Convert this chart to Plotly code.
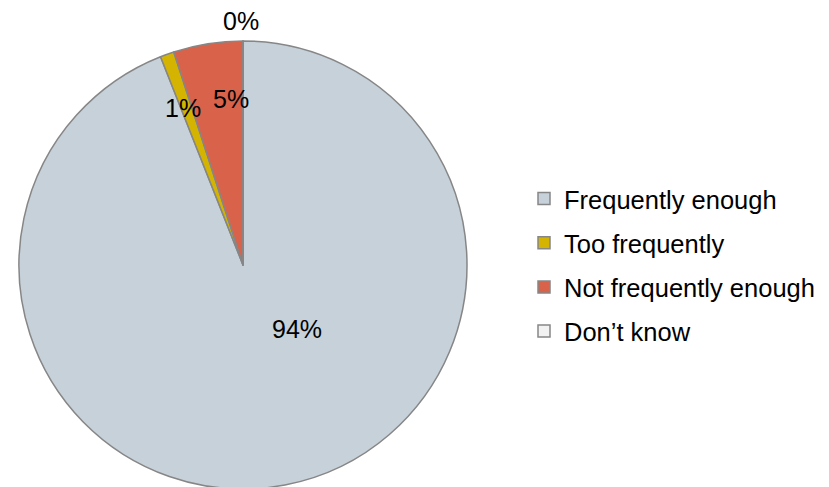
import plotly.graph_objects as go

labels = ["Frequently enough", "Too frequently", "Not frequently enough", "Don\u2019t know"]
values = [94, 1, 5, 0]
colors = ["#c6d1d9", "#d4b400", "#d8634a", "#f2f2f2"]

# where each percentage label sits (window pixels, like the original)
label_pos = [(297, 329), (183, 108), (231, 99), (241, 21)]

W, H = 829, 487
OFF = 8  # body margin of the html page
FONT = "Liberation Sans, Arial"


def px(x):
    return (x - OFF) / W


def py_(y):
    return 1 - (y - OFF) / H


fig = go.Figure()

fig.add_trace(go.Pie(
    labels=labels,
    values=values,
    sort=False,
    direction="clockwise",
    rotation=0,
    marker=dict(colors=colors, line=dict(color="#868686", width=1.5)),
    textinfo="none",
    domain=dict(x=[px(19), px(467)], y=[py_(489), py_(41)]),
    hoverinfo="label+percent",
    showlegend=False,
))

# legend entries as their own groups so the spacing can be set
for lab, col in zip(labels, colors):
    fig.add_trace(go.Scatter(
        x=[None], y=[None], mode="markers", name=lab, legendgroup=lab,
        marker=dict(symbol="square", size=12, color=col,
                    line=dict(color="#868686", width=1.5)),
    ))

total = sum(values)
for v, (x, y) in zip(values, label_pos):
    fig.add_annotation(x=px(x), y=py_(y), xref="paper", yref="paper",
                       text=f"{round(v / total * 100)}%", showarrow=False,
                       xanchor="center", yanchor="middle",
                       font=dict(family=FONT, size=25, color="black"))

fig.update_layout(
    width=W, height=H,
    margin=dict(l=0, r=0, t=0, b=0),
    paper_bgcolor="white",
    plot_bgcolor="rgba(0,0,0,0)",
    xaxis=dict(visible=False),
    yaxis=dict(visible=False),
    showlegend=True,
    legend=dict(x=px(524), y=py_(265), xanchor="left", yanchor="middle",
                traceorder="grouped", tracegroupgap=8,
                font=dict(family=FONT, size=25.5, color="black"),
                itemwidth=30, bgcolor="rgba(0,0,0,0)"),
)

fig.write_html("out.html")
